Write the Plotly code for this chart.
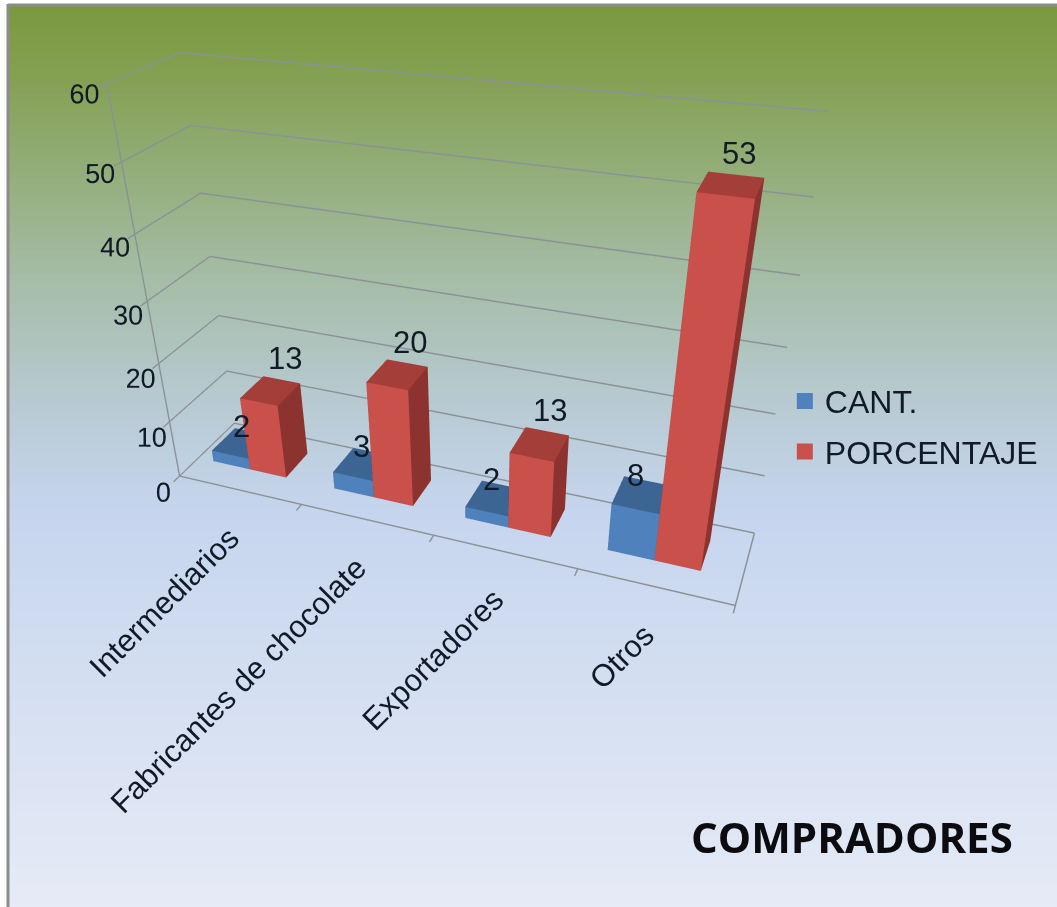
import plotly.graph_objects as go

# Data
categories = ['Intermediarios', 'Fabricantes de chocolate', 'Exportadores', 'Otros']
cant = [2, 3, 2, 8]
porcentaje = [13, 20, 13, 53]
z_ticks = [0, 10, 20, 30, 40, 50, 60]

WIDTH, HEIGHT = 1057, 907
TEXT = '#111a26'
GRID = '#8b9296'
BLUE = '#4f81bd'
RED = '#c9504b'


def hex_rgb(c):
    return [int(c[i:i + 2], 16) for i in (1, 3, 5)]


def gradient(t):
    stops = [(0.0, '#7a983d'), (0.08, '#84a052'), (0.30, '#a5bca5'),
             (0.43, '#b6c9cf'), (0.56, '#c6d5ee'), (1.0, '#e6ebf6')]
    for (a, ca), (b, cb) in zip(stops, stops[1:]):
        if t <= b:
            f = (t - a) / (b - a)
            r = [round(p + (q - p) * f) for p, q in zip(hex_rgb(ca), hex_rgb(cb))]
            return f'rgb({r[0]},{r[1]},{r[2]})'
    return stops[-1][1]


def box(x0, x1, y0, y1, h, front, side, top, name):
    # 8 corners of a column, 12 triangles, one colour per face
    xs = [x0, x1, x1, x0, x0, x1, x1, x0]
    ys = [y0, y0, y1, y1, y0, y0, y1, y1]
    zs = [0, 0, 0, 0, h, h, h, h]
    i = [0, 0, 1, 1, 4, 4, 3, 3, 0, 0, 0, 0]
    j = [1, 5, 2, 6, 5, 6, 2, 6, 3, 7, 1, 2]
    k = [5, 4, 6, 5, 6, 7, 6, 7, 7, 4, 2, 3]
    colors = [front, front, side, side, top, top, side, side, side, side, top, top]
    return go.Mesh3d(x=xs, y=ys, z=zs, i=i, j=j, k=k, facecolor=colors, flatshading=True,
                     lighting=dict(ambient=1, diffuse=0, specular=0, fresnel=0),
                     hoverinfo='skip', showlegend=False, name=name)


fig = go.Figure()
annotations = []
for n, cat in enumerate(categories):
    fig.add_trace(box(n + 0.13, n + 0.44, 0.33, 0.76, cant[n], BLUE, '#3a6088', '#3d6594', 'CANT.'))
    fig.add_trace(box(n + 0.44, n + 0.74, 0.33, 0.76, porcentaje[n], RED, '#8c332f', '#a33e39', 'PORCENTAJE'))
    annotations.append(dict(x=n + 0.28, y=0.76, z=cant[n], text=str(cant[n]), showarrow=False,
                            font=dict(size=31, color=TEXT), xshift=-11, yshift=5))
    annotations.append(dict(x=n + 0.59, y=0.76, z=porcentaje[n], text=str(porcentaje[n]), showarrow=False,
                            font=dict(size=31, color=TEXT), xshift=3, yshift=21))
    annotations.append(dict(x=n + 0.5, y=0, z=0, text=cat, showarrow=False, textangle=-45,
                            xanchor='right', yanchor='top', xshift=9, yshift=-28,
                            font=dict(size=31, color=TEXT)))

# Empty traces only to carry the legend
fig.add_trace(go.Scatter3d(x=[None], y=[None], z=[None], mode='markers', name='CANT.', legendgroup='a',
                           marker=dict(symbol='square', size=16, color=BLUE)))
fig.add_trace(go.Scatter3d(x=[None], y=[None], z=[None], mode='markers', name='PORCENTAJE', legendgroup='b',
                           marker=dict(symbol='square', size=16, color=RED)))

# Background gradient and slide border
shapes = []
band = 6
for top in range(4, HEIGHT, band):
    shapes.append(dict(type='rect', xref='paper', yref='paper', layer='below',
                       x0=8 / WIDTH, x1=1, y0=1 - top / HEIGHT, y1=1 - (top + band) / HEIGHT,
                       fillcolor=gradient(top / HEIGHT), line=dict(width=0)))
shapes.append(dict(type='line', xref='paper', yref='paper', layer='below', x0=8 / WIDTH, x1=1,
                   y0=1 - 5 / HEIGHT, y1=1 - 5 / HEIGHT, line=dict(color='#8c8c8c', width=3)))
shapes.append(dict(type='line', xref='paper', yref='paper', layer='below', x0=8 / WIDTH, x1=8 / WIDTH,
                   y0=0, y1=1 - 4 / HEIGHT, line=dict(color='#8c8c8c', width=3)))

axis_common = dict(showbackground=False, showspikes=False, zeroline=False, title='',
                   showline=True, linecolor=GRID, linewidth=3)

fig.update_layout(
    width=WIDTH, height=HEIGHT,
    margin=dict(l=0, r=0, t=0, b=0),
    paper_bgcolor='white', plot_bgcolor='rgba(0,0,0,0)',
    font=dict(family='Liberation Sans, Arial, sans-serif', color=TEXT),
    shapes=shapes,
    showlegend=True,
    legend=dict(x=0.7425, y=0.588, xanchor='left', yanchor='top', bgcolor='rgba(0,0,0,0)',
                font=dict(size=32, color=TEXT), itemsizing='trace', tracegroupgap=6),
    annotations=[dict(text='<b>COMPRADORES</b>', xref='paper', yref='paper', x=0.9603, y=0.078,
                      xanchor='right', yanchor='middle', showarrow=False,
                      font=dict(family='Open Sans, sans-serif', size=42, color='#0c0c10'))],
    scene=dict(
        domain=dict(x=[0, 0.85], y=[0, 1]),
        bgcolor='rgba(0,0,0,0)',
        dragmode='orbit',  # turntable mode ignores a tilted up vector
        aspectmode='manual',
        aspectratio=dict(x=1, y=0.1924, z=0.7006),
        camera=dict(eye=dict(x=0.5725, y=-1.4305, z=0.7837), center=dict(x=0.014, y=-0.0562, z=-0.2072),
                    up=dict(x=0.0163, y=0, z=1)),
        xaxis=dict(axis_common, range=[0, 4], tickvals=[0, 1, 2, 3, 4], showticklabels=False,
                   showgrid=False, ticks='outside', ticklen=12, tickcolor=GRID, tickwidth=3),
        yaxis=dict(axis_common, range=[0, 1], showticklabels=False, showgrid=False, ticks=''),
        zaxis=dict(axis_common, range=[0, 60], tickvals=z_ticks, showgrid=True, gridcolor=GRID,
                   gridwidth=3, ticks='outside', ticklen=10, tickcolor=GRID, tickwidth=3,
                   tickangle=0, tickfont=dict(size=18, color=TEXT)),
        annotations=annotations,
    ),
)

# The page body margin would push the chart 8px off the window
fig.write_html('out.html', config=dict(displayModeBar=False),
               post_script="document.body.style.margin='0';")
